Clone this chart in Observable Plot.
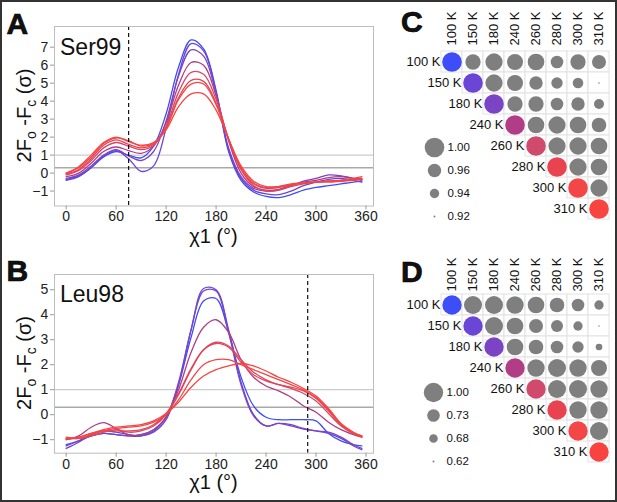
<!DOCTYPE html>
<html><head><meta charset="utf-8">
<script src="https://cdn.jsdelivr.net/npm/d3@7"></script>
<script src="https://cdn.jsdelivr.net/npm/@observablehq/plot@0.6"></script>
<style>
body{margin:0;background:#fff;}
#fig{position:relative;width:617px;height:502px;overflow:hidden;font-family:"Liberation Sans",Arial,sans-serif;background:#fff;}
#fig svg{position:absolute;}
#border{position:absolute;left:0;top:0;width:617px;height:502px;box-sizing:border-box;border:2px solid #333;pointer-events:none;}
</style></head><body><div id="fig"><div id="border"></div></div>
<script>
// ---------- data ----------
const temps = ["100 K","150 K","180 K","240 K","260 K","280 K","300 K","310 K"];
const tempColors = ["#3d4ef8","#6a45d6","#7b44c4","#b03d85","#cf4a6c","#e8434f","#f34646","#f84440"];
const chi = [0,15,30,45,60,75,90,105,120,135,150,165,180,195,210,225,240,255,270,285,300,315,330,345,355];
const xTicks = [0,60,120,180,240,300,360];
const yTicksA = [-1,0,1,2,3,4,5,6,7];
const yTicksB = [-1,0,1,2,3,4,5];

// Ser99 2Fo-Fc (sigma) vs chi1
const ser99_100 = [-0.35,-0.15,0.3,0.9,1.2,1.0,0.85,1.5,3.3,5.9,7.4,6.9,4.6,1.2,-0.4,-1.05,-1.3,-1.36,-1.2,-0.95,-0.8,-0.7,-0.6,-0.5,-0.45];
const ser99_150 = [-0.4,-0.2,0.3,0.95,1.25,0.8,0.1,0.4,2.5,5.5,7.2,6.8,4.5,1.3,-0.3,-0.95,-1.15,-1.2,-1.0,-0.7,-0.5,-0.35,-0.3,-0.4,-0.5];
const ser99_180 = [-0.3,-0.1,0.4,1.0,1.3,0.95,0.7,1.2,2.9,5.4,6.85,6.5,4.4,1.4,-0.2,-0.85,-1.0,-0.95,-0.7,-0.45,-0.3,-0.1,-0.15,-0.3,-0.35];
const ser99_240 = [-0.2,0.0,0.55,1.2,1.45,1.25,1.1,1.5,2.8,4.9,6.15,6.0,4.3,1.8,0.0,-0.75,-0.95,-0.9,-0.7,-0.5,-0.4,-0.25,-0.2,-0.3,-0.4];
const ser99_260 = [-0.1,0.15,0.7,1.4,1.7,1.5,1.3,1.55,2.6,4.5,5.6,5.5,4.1,1.9,0.2,-0.6,-0.85,-0.8,-0.65,-0.55,-0.5,-0.45,-0.4,-0.35,-0.3];
const ser99_280 = [-0.05,0.2,0.8,1.55,1.85,1.6,1.4,1.6,2.5,4.2,5.15,5.1,3.9,1.9,0.2,-0.7,-1.0,-0.95,-0.75,-0.6,-0.5,-0.45,-0.45,-0.35,-0.3];
const ser99_300 = [0.0,0.3,0.9,1.65,1.95,1.8,1.5,1.65,2.5,4.1,4.95,4.95,3.8,1.9,0.3,-0.55,-0.8,-0.75,-0.6,-0.55,-0.5,-0.45,-0.4,-0.3,-0.2];
const ser99_310 = [0.0,0.35,1.0,1.7,2.0,1.75,1.55,1.7,2.4,3.7,4.4,4.4,3.5,1.9,0.4,-0.45,-0.75,-0.75,-0.65,-0.55,-0.5,-0.5,-0.45,-0.4,-0.35];

// Leu98 2Fo-Fc (sigma) vs chi1
const leu98_100 = [-1.2,-1.05,-0.85,-0.75,-0.8,-0.85,-0.85,-0.65,-0.1,1.2,3.1,4.55,4.65,3.3,1.5,0.35,-0.1,-0.2,-0.2,-0.2,-0.25,-0.75,-1.05,-1.2,-1.25];
const leu98_150 = [-1.35,-1.1,-0.8,-0.65,-0.7,-0.8,-0.85,-0.7,-0.2,1.2,3.4,5.05,5.0,3.4,1.3,0.0,-0.45,-0.35,-0.45,-0.58,-0.65,-0.75,-0.95,-1.25,-1.4];
const leu98_180 = [-1.25,-1.05,-0.85,-0.75,-0.8,-0.85,-0.8,-0.6,-0.1,1.3,3.4,4.95,4.95,3.3,1.2,-0.05,-0.45,-0.35,-0.4,-0.55,-0.65,-0.7,-0.9,-1.2,-1.35];
const leu98_240 = [-1.0,-0.85,-0.5,-0.32,-0.55,-0.8,-0.8,-0.6,-0.1,1.0,2.5,3.5,3.8,3.3,2.2,1.5,1.15,0.95,0.7,0.35,0.1,-0.3,-0.6,-0.8,-0.9];
const leu98_260 = [-0.95,-0.95,-0.85,-0.7,-0.6,-0.7,-0.65,-0.45,0.0,0.8,1.8,2.6,2.9,2.75,2.2,1.7,1.4,1.2,1.05,0.85,0.55,0.05,-0.45,-0.75,-0.85];
const leu98_280 = [-1.0,-0.9,-0.75,-0.65,-0.65,-0.65,-0.6,-0.4,0.05,0.85,1.85,2.6,2.85,2.7,2.1,1.6,1.35,1.2,1.1,0.95,0.65,0.15,-0.4,-0.75,-0.88];
const leu98_300 = [-0.9,-0.95,-0.8,-0.65,-0.55,-0.5,-0.45,-0.3,0.0,0.6,1.4,2.0,2.2,2.2,2.0,1.8,1.6,1.4,1.2,1.0,0.7,0.2,-0.4,-0.75,-0.9];
const leu98_310 = [-0.95,-0.9,-0.75,-0.6,-0.5,-0.45,-0.4,-0.25,0.05,0.5,1.1,1.55,1.8,1.95,2.05,1.95,1.75,1.5,1.3,1.05,0.75,0.25,-0.35,-0.7,-0.85];

// Correlation matrices (upper triangle, each row from diagonal onward)
const corrC_100 = [1,0.972,0.985,0.977,0.981,0.956,0.972,0.964];
const corrC_150 = [1,0.985,0.977,0.960,0.950,0.946,0.919];
const corrC_180 = [1,0.972,0.972,0.956,0.960,0.943];
const corrC_240 = [1,0.981,0.985,0.981,0.968];
const corrC_260 = [1,0.985,0.985,0.981];
const corrC_280 = [1,0.985,0.981];
const corrC_300 = [1,0.985];
const corrC_310 = [1];
const legendC = [1.00,0.96,0.94,0.92];

const corrD_100 = [1,0.944,0.944,0.918,0.891,0.812,0.732,0.689];
const corrD_150 = [1,0.944,0.891,0.786,0.722,0.689,0.615];
const corrD_180 = [1,0.891,0.812,0.732,0.714,0.662];
const corrD_240 = [1,0.918,0.944,0.918,0.865];
const corrD_260 = [1,0.944,0.944,0.918];
const corrD_280 = [1,0.918,0.918];
const corrD_300 = [1,0.944];
const corrD_310 = [1];
const legendD = [1.00,0.73,0.68,0.62];

// ---------- build tables ----------
function lineTable(series) {
  const out = [];
  series.forEach((vals, i) => vals.forEach((v, j) => out.push({T: temps[i], chi: chi[j], v})));
  return out;
}
function matTable(rows) {
  const out = [];
  rows.forEach((vals, i) => vals.forEach((v, k) => out.push({row: temps[i], col: temps[i + k], v})));
  return out;
}
const tableA = lineTable([ser99_100,ser99_150,ser99_180,ser99_240,ser99_260,ser99_280,ser99_300,ser99_310]);
const tableB = lineTable([leu98_100,leu98_150,leu98_180,leu98_240,leu98_260,leu98_280,leu98_300,leu98_310]);
const cellsC = matTable([corrC_100,corrC_150,corrC_180,corrC_240,corrC_260,corrC_280,corrC_300,corrC_310]);
const cellsD = matTable([corrD_100,corrD_150,corrD_180,corrD_240,corrD_260,corrD_280,corrD_300,corrD_310]);

const FONT = "'Liberation Sans', Arial, Helvetica, sans-serif";
const baseStyle = {background: "transparent", overflow: "visible", fontFamily: FONT, color: "#111"};
const fig = document.getElementById("fig");
const border = document.getElementById("border");

function place(svg, left, top) {
  svg.style.left = left + "px"; svg.style.top = top + "px";
  fig.insertBefore(svg, border);
  return svg;
}
function addText(svg, x, y, str, attrs = {}) {
  const t = d3.select(svg).append("text").attr("x", x).attr("y", y).text(str)
    .attr("font-family", FONT).attr("fill", "#111").attr("text-anchor", "start");
  for (const [k, v] of Object.entries(attrs)) t.attr(k, v);
  return t;
}
function addLetter(svg, x, y, str) {
  addText(svg, x, y, str, {"font-size": 30, "font-weight": "bold", stroke: "#000", "stroke-width": 0.7});
}
function addYTitle(svg, cx, cy) {
  const t = d3.select(svg).append("text")
    .attr("transform", `translate(${cx},${cy}) rotate(-90)`)
    .attr("text-anchor", "middle").attr("font-size", 20).attr("font-family", FONT).attr("fill", "#111");
  t.append("tspan").text("2F");
  t.append("tspan").text("o").attr("font-size", 14).attr("dy", 5);
  t.append("tspan").text(" -F").attr("dy", -5);
  t.append("tspan").text("c").attr("font-size", 14).attr("dy", 5);
  t.append("tspan").text(" (σ)").attr("dy", -5);
}

function linePanel(table, yDomain, yTicks, dashX, mTop, mBottom) {
  return Plot.plot({
    width: 380, height: 252,
    marginLeft: 54, marginRight: 7, marginTop: mTop, marginBottom: mBottom,
    style: baseStyle,
    x: {domain: [-14, 369]},
    y: {domain: yDomain},
    color: {domain: temps, range: tempColors},
    marks: [
      Plot.ruleY([1], {stroke: "#cccccc", strokeWidth: 1.2}),
      Plot.ruleY([0.3], {stroke: "#a9a9a9", strokeWidth: 1.4}),
      Plot.line(table, {x: "chi", y: "v", z: "T", stroke: "T", curve: "catmull-rom", strokeWidth: 1.3}),
      Plot.ruleX([dashX], {stroke: "#111", strokeDasharray: "4,3", strokeWidth: 1.2}),
      Plot.frame({stroke: "#bdbdbd"}),
      Plot.axisX({ticks: xTicks, tickSize: 4, tickPadding: 1.5, fontSize: 14, stroke: "#999", fill: "#222", label: null}),
      Plot.axisY({ticks: yTicks, tickSize: 4, tickPadding: 2.3, fontSize: 14, stroke: "#999", fill: "#222", label: null})
    ]
  });
}

// Panel A
const svgA = place(linePanel(tableA, [-1.83, 8.15], yTicksA, 75, 26, 46.5), 0, 0);
addLetter(svgA, 6.5, 34.3, "A");
addText(svgA, 60, 54.5, "Ser99", {"font-size": 23});
addYTitle(svgA, 31, 115.5);
addText(svgA, 213.5, 242.5, "χ1 (°)", {"font-size": 20, "text-anchor": "middle"});

// Panel B
const svgB = place(linePanel(tableB, [-1.54, 5.61], yTicksB, 290, 24, 49.3), 0, 250);
addLetter(svgB, 6.5, 31, "B");
addText(svgB, 60, 51.5, "Leu98", {"font-size": 23});
addYTitle(svgB, 31, 113);
addText(svgB, 213.5, 238.5, "χ1 (°)", {"font-size": 20, "text-anchor": "middle"});

// Matrix panels
function matPanel(cells, rOpts, mTop, mBottom, height, labDy) {
  return Plot.plot({
    width: 217, height,
    marginLeft: 40, marginRight: 8, marginTop: mTop, marginBottom: mBottom,
    style: baseStyle,
    x: {domain: temps, padding: 0, axis: null},
    y: {domain: temps, padding: 0, axis: null},
    r: rOpts,
    color: {domain: [...temps, "off"], range: [...tempColors, "#7f7f7f"]},
    marks: [
      Plot.cell(cells, {x: "col", y: "row", fill: "white", stroke: "#e2e2e2", inset: 0}),
      Plot.dot(cells, {x: "col", y: "row", r: "v", fill: d => d.row === d.col ? d.row : "off"}),
      Plot.text(temps, {x: d => d, frameAnchor: "top", rotate: -90, textAnchor: "start", lineAnchor: "middle", dy: labDy, fontSize: 13, fill: "#111"}),
      Plot.text(temps, {x: d => d, y: d => d, textAnchor: "end", dx: -11.5, fontSize: 13, fill: "#111"})
    ]
  });
}
function legendPanel(vals, rOpts, height, mTop) {
  return Plot.plot({
    width: 70, height,
    marginLeft: 14, marginRight: 0, marginTop: mTop, marginBottom: 10,
    style: baseStyle,
    y: {type: "point", domain: vals, padding: 0, axis: null},
    r: rOpts,
    marks: [
      Plot.dot(vals, {y: d => d, r: d => d, fill: "#7f7f7f", frameAnchor: "left"}),
      Plot.text(vals, {y: d => d, text: d => d.toFixed(2), frameAnchor: "left", dx: 13, textAnchor: "start", fontSize: 11.5, fill: "#111"})
    ]
  });
}
const rC = {type: "linear", zero: false, domain: [0.92, 0.94, 0.96, 1.00], range: [1, 4.7, 6.7, 9.8]};
const rD = {type: "linear", zero: false, domain: [0.62, 0.68, 0.73, 1.00], range: [1, 4.3, 6.3, 9.7]};

const svgC = place(matPanel(cellsC, rC, 50, 31, 250, -5), 400, 0);
addLetter(svgC, 1, 31.5, "C");
place(legendPanel(legendC, rC, 97.3, 15.7), 420, 130);

const svgD = place(matPanel(cellsD, rD, 44, 39.8, 252, -3), 400, 250);
addLetter(svgD, 1, 31.5, "D");
place(legendPanel(legendD, rD, 92.3, 11.7), 419.3, 380);
</script></body></html>
